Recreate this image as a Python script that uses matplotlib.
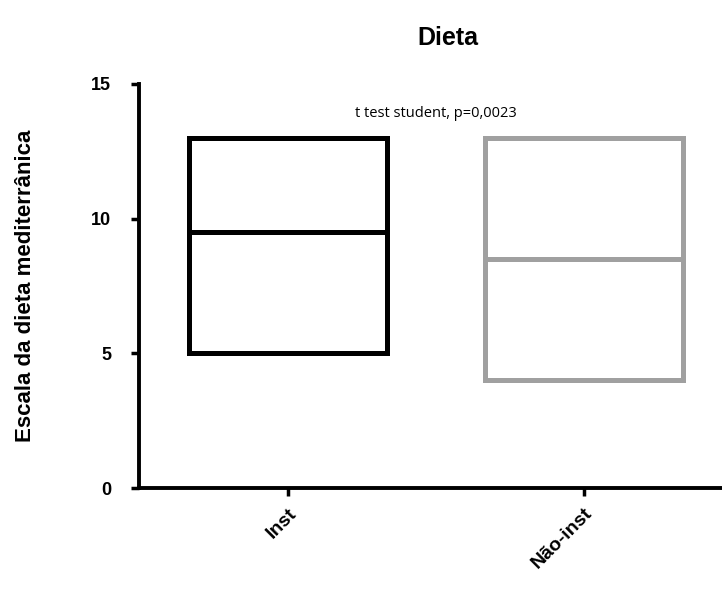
import matplotlib.pyplot as plt
import numpy as np

plt.rcParams['font.family'] = ['Liberation Sans', 'DejaVu Sans']

grupos = ['Inst', 'Não-inst']
minimo = [5, 4]
maximo = [13, 13]
mediana = [9.5, 8.5]
cores = ['black', '#a0a0a0']
yticks = [0, 5, 10, 15]

fig = plt.figure(figsize=(7.22, 6.08), dpi=100)
ax = fig.add_axes([0.1925, 0.197, 0.8075, 0.665])

x = np.arange(len(grupos))
largura = 0.67
altura = [mx - mn for mx, mn in zip(maximo, minimo)]
ax.bar(x, altura, bottom=minimo, width=largura, fill=False,
       edgecolor=cores, linewidth=3.6, joinstyle='miter')
for xi, med, c in zip(x, mediana, cores):
    ax.hlines(med, xi - largura / 2, xi + largura / 2, color=c, lw=3.6)

ax.text(0.5, 13.9, 't test student, p=0,0023', ha='center', va='center',
        fontsize=10.5, family=['Open Sans', 'DejaVu Sans'])

ax.set_xlim(-0.503, 1.466)
ax.set_ylim(0, 15)
ax.tick_params(width=2.5, length=6)
ax.tick_params(axis='y', pad=14)
ax.tick_params(axis='x', pad=6)
ax.set_yticks(yticks, [str(v) for v in yticks], fontsize=13, fontweight='bold')
ax.set_xticks(x, grupos, rotation=45, ha='right', rotation_mode='anchor',
              fontsize=14, fontweight='bold')

for s in ['top', 'right']:
    ax.spines[s].set_visible(False)
for s in ['left', 'bottom']:
    ax.spines[s].set_linewidth(2.8)

ax.set_title('Dieta', fontsize=18, fontweight='bold', pad=28, x=0.53)
ax.set_ylabel('Escala da dieta mediterrânica', fontsize=16, fontweight='bold',
              labelpad=40)

fig.savefig('out.png', dpi=100)
